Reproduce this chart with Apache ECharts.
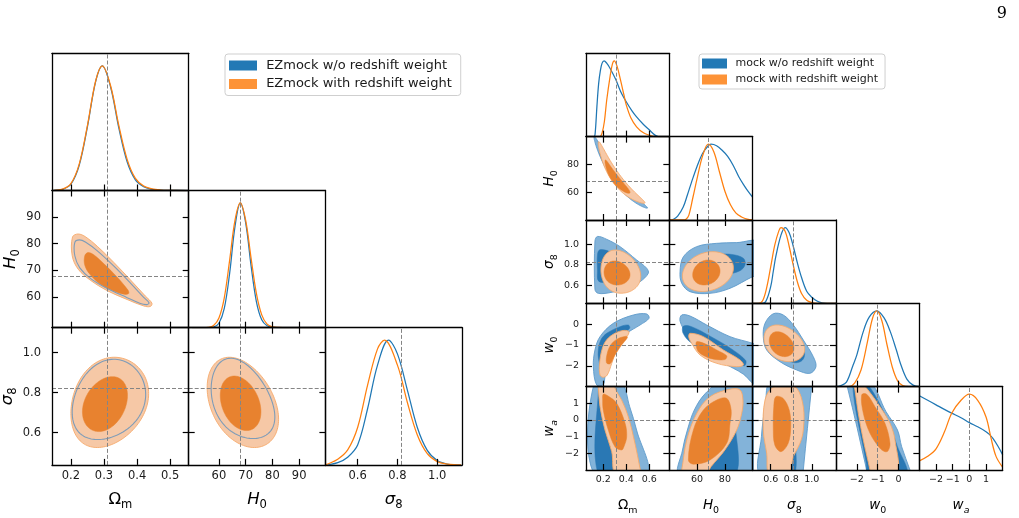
<!DOCTYPE html>
<html><head><meta charset="utf-8">
<script src="https://cdn.jsdelivr.net/npm/echarts@6/dist/echarts.min.js"></script>
<style>html,body{margin:0;padding:0;background:#fff}#c{width:1019px;height:518px}</style>
</head><body><div id="c"></div>
<script>
// ================= DATA =================
const LEFT_PARAMS = ['om', 'h0', 's8'];
const RIGHT_PARAMS = ['om', 'h0', 's8', 'w0', 'wa'];
const LEFT_RANGES = { om: [0.143, 0.556], h0: [48.7, 99.8], s8: [0.438, 1.125] };
const RIGHT_RANGES = { om: [0.05, 0.775], h0: [40, 100], s8: [0.425, 1.235], w0: [-3, 1], wa: [-3, 2] };
const LEFT_TICKS = { om: [0.2, 0.3, 0.4, 0.5], h0: [60, 70, 80, 90], s8: [0.6, 0.8, 1.0] };
const LEFT_TICK_LABELS = { om: ['0.2', '0.3', '0.4', '0.5'], h0: ['60', '70', '80', '90'], s8: ['0.6', '0.8', '1.0'] };
const RIGHT_TICKS = { om: [0.2, 0.4, 0.6], h0: [60, 80], s8: [0.6, 0.8, 1.0], w0: [-2, -1, 0], wa: [-2, -1, 0, 1] };
const RIGHT_TICK_LABELS = { om: ['0.2', '0.4', '0.6'], h0: ['60', '80'], s8: ['0.6', '0.8', '1.0'], w0: ['\u22122', '\u22121', '0'], wa: ['\u22122', '\u22121', '0', '1'] };
const FIDUCIAL = { om: 0.31, h0: 67.8, s8: 0.82, w0: -1, wa: 0 };
const AXIS_NAMES = { om: '{g|\u03A9}{s|m}', h0: '{i|H}{s|0}', s8: '{i|\u03C3}{s|8}', w0: '{i|w}{s|0}', wa: '{i|w}{si|a}' };
const LEFT_SERIES_NAMES = ['EZmock w/o redshift weight', 'EZmock with redshift weight'];
const RIGHT_SERIES_NAMES = ['mock w/o redshift weight', 'mock with redshift weight'];
const PAGE_NUMBER = '9';

// 1D marginals: [value, relative density]
const L_OM_BLUE = [[0.15,0.001],[0.175,0.009],[0.2,0.05],[0.225,0.2],[0.25,0.51],[0.275,0.875],[0.295,1.0],[0.32,0.83],[0.345,0.5],[0.37,0.23],[0.395,0.085],[0.42,0.03],[0.445,0.01],[0.47,0.003],[0.5,0.0008],[0.55,0]];
const L_OM_ORANGE = [[0.15,0.002],[0.175,0.011],[0.2,0.055],[0.225,0.21],[0.25,0.52],[0.275,0.88],[0.295,1.0],[0.32,0.84],[0.345,0.52],[0.37,0.25],[0.395,0.097],[0.42,0.036],[0.445,0.013],[0.47,0.004],[0.5,0.001],[0.55,0]];
const L_H0_BLUE = [[50,0],[54,0.0001],[56,0.0006],[58,0.0055],[60,0.036],[62,0.154],[64,0.435],[66,0.81],[68,1.0],[70,0.84],[72,0.5],[74,0.21],[76,0.063],[78,0.015],[80,0.004],[82,0.001],[86,0],[99,0]];
const L_H0_ORANGE = [[50,0],[54,0.0004],[56,0.003],[58,0.018],[60,0.078],[62,0.24],[64,0.54],[66,0.86],[68,1.0],[70,0.86],[72,0.56],[74,0.276],[76,0.103],[78,0.029],[80,0.007],[82,0.002],[84,0.0005],[88,0],[99,0]];
const L_S8_BLUE = [[0.44,0],[0.45,0.001],[0.5,0.018],[0.55,0.062],[0.6,0.16],[0.65,0.45],[0.7,0.8],[0.755,1.0],[0.8,0.89],[0.85,0.6],[0.9,0.3],[0.95,0.116],[1.0,0.035],[1.05,0.007],[1.1,0.001],[1.12,0]];
const L_S8_ORANGE = [[0.44,0.002],[0.45,0.007],[0.5,0.045],[0.55,0.12],[0.6,0.3],[0.65,0.64],[0.7,0.93],[0.735,1.0],[0.8,0.8],[0.85,0.5],[0.9,0.24],[0.95,0.09],[1.0,0.026],[1.05,0.006],[1.1,0.001],[1.12,0]];

const R_OM_BLUE = [[0.05,0],[0.12,0],[0.13,0.05],[0.145,0.4],[0.16,0.7],[0.175,0.87],[0.19,0.97],[0.207,1.0],[0.23,0.97],[0.26,0.9],[0.31,0.75],[0.35,0.6],[0.40,0.46],[0.45,0.34],[0.49,0.26],[0.55,0.16],[0.6,0.09],[0.65,0.02],[0.68,0],[0.775,0]];
const R_OM_ORANGE = [[0.05,0],[0.17,0],[0.19,0.05],[0.21,0.2],[0.23,0.48],[0.26,0.8],[0.28,0.96],[0.296,1.0],[0.32,0.93],[0.35,0.75],[0.38,0.55],[0.40,0.42],[0.44,0.25],[0.49,0.13],[0.55,0.05],[0.6,0.02],[0.65,0],[0.775,0]];
const R_H0_BLUE = [[40,0],[43,0.01],[46,0.05],[50,0.17],[53,0.33],[56,0.5],[60,0.71],[64,0.88],[68,0.98],[70,1.0],[74,0.98],[78,0.92],[82,0.84],[86,0.72],[90,0.57],[94,0.45],[97,0.37],[100,0.30]];
const R_H0_ORANGE = [[40,0],[50,0],[52,0.01],[54,0.06],[57,0.3],[60,0.55],[64,0.85],[68,1.0],[72,0.9],[76,0.64],[80,0.38],[84,0.2],[88,0.09],[92,0.04],[96,0.01],[100,0]];
const R_S8_BLUE = [[0.425,0],[0.5,0],[0.55,0.02],[0.6,0.22],[0.625,0.42],[0.65,0.62],[0.7,0.9],[0.74,1.0],[0.78,0.93],[0.82,0.75],[0.86,0.53],[0.9,0.34],[0.95,0.16],[1.0,0.08],[1.05,0.03],[1.1,0.005],[1.15,0],[1.235,0]];
const R_S8_ORANGE = [[0.425,0],[0.48,0],[0.52,0.03],[0.56,0.2],[0.6,0.48],[0.64,0.77],[0.68,0.96],[0.70,1.0],[0.74,0.95],[0.78,0.75],[0.82,0.5],[0.86,0.28],[0.9,0.13],[0.95,0.04],[1.0,0.01],[1.05,0],[1.235,0]];
const R_W0_BLUE = [[-3,0],[-2.8,0.01],[-2.5,0.06],[-2.2,0.27],[-2.0,0.42],[-1.7,0.72],[-1.4,0.92],[-1.04,1.0],[-0.7,0.91],[-0.4,0.73],[-0.1,0.48],[0.1,0.3],[0.4,0.1],[0.7,0.02],[1.0,0]];
const R_W0_ORANGE = [[-3,0],[-2.4,0],[-2.1,0.05],[-1.8,0.22],[-1.5,0.58],[-1.25,0.9],[-1.04,1.0],[-0.8,0.87],[-0.55,0.55],[-0.3,0.26],[-0.05,0.08],[0.2,0.015],[0.5,0],[1.0,0]];
const R_WA_BLUE = [[-3,0.98],[-2.5,0.92],[-2,0.86],[-1.5,0.8],[-1.06,0.75],[-0.5,0.69],[0,0.625],[0.5,0.57],[1,0.506],[1.2,0.47],[1.4,0.42],[1.7,0.32],[2,0.2]];
const R_WA_ORANGE = [[-3,0.12],[-2.5,0.18],[-2,0.28],[-1.5,0.5],[-1.06,0.75],[-0.5,0.92],[0,1.0],[0.5,0.92],[1.0,0.7],[1.3,0.42],[1.6,0.18],[2,0.035]];

// 2D credible regions [outer(95%), inner(68%)].
// ellipse-like: [centre x, centre y, extent left, extent right, extent down, extent up, correlation]
// polygon: list of [x, y] vertices
const L_OM_H0_ORANGE_OUT = [[0.205,82.5],[0.222,83.6],[0.245,82.5],[0.28,79],[0.33,73],[0.38,66.5],[0.425,60.5],[0.445,57.8],[0.44,56.6],[0.42,56.8],[0.37,59.2],[0.31,62.5],[0.26,66.3],[0.222,70.5],[0.204,75.5]];
const L_OM_H0_BLUE_OUT = [[0.212,80.5],[0.226,81.4],[0.245,80.5],[0.28,77.3],[0.33,71.6],[0.38,65.3],[0.42,60],[0.436,58],[0.43,57.3],[0.41,57.7],[0.37,59.9],[0.31,63.3],[0.26,67],[0.227,71],[0.212,75.5]];
const L_OM_H0_INNER = [[0.242,75.5],[0.252,76.7],[0.27,75.8],[0.30,72.5],[0.34,67.5],[0.372,62.8],[0.375,61.5],[0.365,61.1],[0.33,62.3],[0.29,64.8],[0.258,68.5],[0.242,72]];
const L_OM_H0_BLUE = [L_OM_H0_BLUE_OUT, L_OM_H0_INNER];
const L_OM_H0_ORANGE = [L_OM_H0_ORANGE_OUT, L_OM_H0_INNER];
const L_OM_S8_BLUE = [[0.305,0.745,0.101,0.121,0.18,0.222,0.22],[0.305,0.745,0.068,0.064,0.13,0.135,0.3]];
const L_OM_S8_ORANGE = [[0.305,0.745,0.105,0.13,0.22,0.232,0.22],[0.305,0.745,0.07,0.066,0.14,0.135,0.3]];
const L_H0_S8_BLUE = [[68.5,0.745,11.4,12.4,0.175,0.227,-0.35],[68,0.745,7.3,7.5,0.13,0.135,-0.3]];
const L_H0_S8_ORANGE = [[68.5,0.745,12.9,13.8,0.22,0.232,-0.35],[68,0.745,7.5,7.7,0.135,0.138,-0.3]];

const R_OM_H0_BLUE = [[0.33,68,0.21,0.255,19.5,32,-0.985],[0.31,70,0.14,0.17,14,18,-0.99]];
const R_OM_H0_ORANGE = [[0.32,69,0.163,0.243,17,27.4,-0.965],[0.30,70,0.085,0.133,10.8,13.2,-0.93]];
const R_OM_S8_BLUE = [[[0.128,1.03],[0.15,1.075],[0.23,1.047],[0.346,0.976],[0.491,0.846],[0.578,0.766],[0.592,0.717],[0.52,0.635],[0.404,0.571],[0.259,0.529],[0.157,0.522],[0.128,0.56]],
  [[0.15,0.9],[0.17,0.945],[0.25,0.93],[0.38,0.84],[0.42,0.75],[0.36,0.66],[0.25,0.63],[0.16,0.64],[0.15,0.75]]];
const R_OM_S8_ORANGE = [[0.33,0.72,0.15,0.196,0.197,0.223,-0.15],[0.31,0.715,0.103,0.123,0.112,0.122,-0.1]];
const R_H0_S8_BLUE = [[[47.7,0.733],[50.1,0.878],[59.7,0.976],[74.1,1.008],[88.5,1.015],[105,1.02],[105,0.70],[100,0.684],[83.7,0.571],[69.3,0.522],[54.9,0.538],[48.9,0.62]],
  [[55,0.8],[62,0.87],[75,0.9],[85,0.9],[93.3,0.863],[94.5,0.8],[90.9,0.742],[80,0.7],[65,0.66],[56,0.68]]];
const R_H0_S8_ORANGE = [[67.5,0.73,18.1,18.6,0.19,0.197,0.2],[66.5,0.72,9.7,10,0.117,0.126,0.15]];
const R_OM_W0_BLUE = [[[0.143,-2.92],[0.114,-2.04],[0.128,-1.24],[0.172,-0.6],[0.288,0.04],[0.462,0.44],[0.578,0.49],[0.598,0.28],[0.52,-0.04],[0.404,-0.44],[0.317,-0.92],[0.244,-1.72],[0.215,-2.52],[0.2,-2.9]],
  [[0.187,-2.12],[0.16,-1.7],[0.157,-1.24],[0.18,-0.75],[0.23,-0.44],[0.346,-0.12],[0.418,-0.04],[0.43,-0.2],[0.36,-0.5],[0.3,-0.9],[0.26,-1.5],[0.225,-2.1]]];
const R_OM_W0_ORANGE = [[[0.172,-2.44],[0.168,-1.9],[0.19,-1.2],[0.23,-0.75],[0.302,-0.44],[0.38,-0.3],[0.425,-0.38],[0.375,-0.84],[0.317,-1.24],[0.274,-1.88],[0.235,-2.44],[0.2,-2.55]],
  [[0.228,-1.85],[0.235,-1.4],[0.265,-1.0],[0.32,-0.72],[0.4,-0.58],[0.41,-0.65],[0.36,-1.0],[0.3,-1.5],[0.26,-1.9]]];
const R_H0_W0_BLUE = [[[48.9,0.44],[54.9,0.39],[66.9,-0.04],[83.7,-0.6],[100,-0.92],[106,-1.1],[106,-3.1],[100,-2.84],[93.3,-2.4],[78.9,-1.85],[64.5,-1.16],[52.5,-0.44],[47.7,0.15]],
  [[50,-0.1],[56,-0.12],[70,-0.6],[85,-1.2],[95,-1.75],[94,-2.0],[85,-1.7],[70,-1.2],[56,-0.9],[50,-0.45]]];
const R_H0_W0_ORANGE = [[[54.9,-0.44],[64.5,-0.6],[78.9,-1.24],[90.9,-1.72],[93.3,-1.96],[88.5,-2.04],[74.1,-1.88],[62.1,-1.48],[56.1,-0.92],[54,-0.62]],
  [[59.7,-0.84],[66,-0.95],[74.1,-1.24],[81.3,-1.52],[80,-1.7],[72,-1.68],[66,-1.55],[60.9,-1.32],[59.3,-1.04]]];
const R_S8_W0_BLUE = [[[0.625,0.5],[0.722,0.44],[0.82,-0.04],[0.917,-0.76],[1.014,-1.56],[1.04,-2.04],[0.982,-2.36],[0.853,-2.2],[0.69,-1.8],[0.561,-1.24],[0.528,-0.6],[0.545,0.04]],
  [0.76,-1.0,0.16,0.17,0.85,0.8,-0.5]];
const R_S8_W0_ORANGE = [[0.72,-0.95,0.185,0.21,0.85,0.91,-0.3],[0.70,-0.97,0.114,0.126,0.59,0.61,-0.3]];
const R_OM_WA_BLUE = [[[0.125,2.3],[0.35,2.3],[0.43,0.8],[0.49,-0.6],[0.58,-3.3],[0.125,-3.3]],[[0.158,1.7],[0.2,1.9],[0.27,1.0],[0.34,-1],[0.40,-3.3],[0.158,-3.3]]];
const R_OM_WA_ORANGE = [[[0.15,2.3],[0.157,1.9],[0.172,0.8],[0.215,-0.6],[0.274,-1.9],[0.311,-3.3],[0.53,-3.3],[0.52,-2.9],[0.476,-1.4],[0.418,0.2],[0.36,1.2],[0.302,1.9],[0.295,2.3]],
  [[0.2,1.55],[0.24,1.45],[0.317,1.0],[0.39,-0.2],[0.404,-1.0],[0.38,-1.6],[0.36,-1.8],[0.302,-1.6],[0.244,-0.6],[0.2,0.6],[0.195,1.2]]];
const R_H0_WA_BLUE = [[[47.5,-3.3],[49.5,-1.8],[53,-0.6],[58,0.6],[66,1.6],[78,2.3],[105,2.3],[105,-3.3]],[[64,-3.3],[75,-1.5],[86,-0.2],[87.5,-0.3],[87.5,-3.3]]];
const R_H0_WA_ORANGE = [[[47.8,-3.3],[48.9,-3],[52.5,-1.2],[59.7,0.4],[69.3,1.4],[83.7,1.85],[90.9,1.8],[93,1.2],[92.1,0.4],[88.5,-0.6],[80,-1.8],[70,-2.8],[66,-3.3]],
  [[53.7,-2.4],[57.3,-0.6],[64.5,0.6],[74.1,1.2],[81.3,1.3],[84.5,0.6],[83.7,-0.2],[81.3,-1.4],[69.3,-2.4],[57.3,-2.65]]];
const R_S8_WA_BLUE = [[[0.5,-3.3],[0.51,-1.0],[0.55,1.0],[0.6,2.3],[1.005,2.3],[0.998,2.0],[0.917,-3.0],[0.913,-3.3]],[[0.72,-3.3],[0.74,-1.5],[0.8,-0.5],[0.84,-1.5],[0.83,-3.3]]];
const R_S8_WA_ORANGE = [[[0.62,1.95],[0.75,2.0],[0.853,1.9],[0.917,0.8],[0.917,-0.6],[0.885,-1.4],[0.82,-2.2],[0.771,-3.3],[0.59,-3.3],[0.561,-2.0],[0.528,-0.6],[0.545,1.2]],
  [[0.65,1.4],[0.72,1.3],[0.78,0.6],[0.795,-0.4],[0.77,-1.4],[0.7,-1.9],[0.64,-1.5],[0.625,-0.4],[0.63,0.8]]];
const R_W0_WA_BLUE = [[[-2.6,2.3],[-1.4,2.3],[-0.6,0.5],[-0.05,-0.6],[0.15,-1.6],[0.55,-3.0],[0.62,-3.3],[-1.5,-3.3],[-1.53,-3.0],[-2.46,2.0]],
  [[-2.2,2.3],[-1.6,2.3],[-0.6,0.2],[-0.05,-1.6],[0.38,-3.3],[-1.45,-3.3],[-1.55,-2.6]]];
const R_W0_WA_ORANGE = [[[-2.15,2.1],[-1.8,2.2],[-1.53,1.9],[-0.89,0.8],[-0.41,-0.2],[-0.17,-1.2],[-0.09,-3.3],[-1.35,-3.3],[-1.37,-3],[-1.69,-1.2],[-1.93,0.4],[-2.09,1.8]],
  [[-1.77,1.5],[-1.53,1.55],[-1.13,0.8],[-0.65,-0.2],[-0.41,-1.4],[-0.5,-1.85],[-0.65,-1.9],[-0.89,-1.7],[-1.37,-0.8],[-1.69,0.4]]];

// ================= STYLE / LAYOUT =================
const FONT = 'DejaVu Sans';
const LINE_COLORS = ['#1f77b4', '#ff7f0e'];
const LEGEND_COLORS = ['#2279b5', '#fd9337'];
const FILL = {
  blue: { outer: '#83b3d9', inner: '#2a78b4', edge: '#5f9bcb' },
  orange: { outer: '#f6c8a6', inner: '#e8822f', edge: '#f6aa6c' }
};
const BLUE_LINE_ON_TOP = '#7e9cb8';

const LEFT_PLOT = {
  params: LEFT_PARAMS, ranges: LEFT_RANGES, ticks: LEFT_TICKS, tickLabels: LEFT_TICK_LABELS,
  names: LEFT_SERIES_NAMES, blueLineOnTop: true,
  x0: 52, y0: 53.3, w: 136.7, h: 137.2,
  tickFont: 11.5, titleFont: 16.5, tickLen: 6, labelMarginX: 5, labelMarginY: 11, nameGapX: 26, nameGapY: 25.5,
  marginals: [[L_OM_BLUE, L_OM_ORANGE], [L_H0_BLUE, L_H0_ORANGE], [L_S8_BLUE, L_S8_ORANGE]],
  panels: [
    { row: 1, col: 0, c: [L_OM_H0_BLUE, L_OM_H0_ORANGE] },
    { row: 2, col: 0, c: [L_OM_S8_BLUE, L_OM_S8_ORANGE] },
    { row: 2, col: 1, c: [L_H0_S8_BLUE, L_H0_S8_ORANGE] }
  ]
};
const RIGHT_PLOT = {
  params: RIGHT_PARAMS, ranges: RIGHT_RANGES, ticks: RIGHT_TICKS, tickLabels: RIGHT_TICK_LABELS,
  names: RIGHT_SERIES_NAMES, blueLineOnTop: false,
  x0: 586, y0: 53.3, w: 83.34, h: 83.34,
  tickFont: 9.5, titleFont: 13.5, tickLen: 6, labelMarginX: 5, labelMarginY: 7, nameGapX: 28, nameGapY: 27,
  marginals: [[R_OM_BLUE, R_OM_ORANGE], [R_H0_BLUE, R_H0_ORANGE], [R_S8_BLUE, R_S8_ORANGE], [R_W0_BLUE, R_W0_ORANGE], [R_WA_BLUE, R_WA_ORANGE]],
  panels: [
    { row: 1, col: 0, c: [R_OM_H0_BLUE, R_OM_H0_ORANGE] },
    { row: 2, col: 0, c: [R_OM_S8_BLUE, R_OM_S8_ORANGE] },
    { row: 2, col: 1, c: [R_H0_S8_BLUE, R_H0_S8_ORANGE] },
    { row: 3, col: 0, c: [R_OM_W0_BLUE, R_OM_W0_ORANGE] },
    { row: 3, col: 1, c: [R_H0_W0_BLUE, R_H0_W0_ORANGE] },
    { row: 3, col: 2, c: [R_S8_W0_BLUE, R_S8_W0_ORANGE] },
    { row: 4, col: 0, c: [R_OM_WA_BLUE, R_OM_WA_ORANGE] },
    { row: 4, col: 1, c: [R_H0_WA_BLUE, R_H0_WA_ORANGE] },
    { row: 4, col: 2, c: [R_S8_WA_BLUE, R_S8_WA_ORANGE] },
    { row: 4, col: 3, c: [R_W0_WA_BLUE, R_W0_WA_ORANGE] }
  ]
};
const MARGINAL_TOP = 1.1;

// ================= BUILD =================
function contourPoints(c) {
  if (Array.isArray(c[0])) return { pts: c, poly: true };
  const [cx, cy, sxL, sxR, syD, syU, rho] = c;
  const a = (sxL + sxR) / 2, b = (sxR - sxL) / 2, p = (syD + syU) / 2, q = (syU - syD) / 2;
  const s = Math.sqrt(1 - rho * rho);
  const pts = [];
  const N = 120;
  for (let k = 0; k < N; k++) {
    const t = 2 * Math.PI * k / N;
    const u = Math.cos(t), v = rho * u + s * Math.sin(t);
    pts.push([cx + a * u + b * u * u, cy + p * v + q * v * v]);
  }
  return { pts, poly: false };
}
function centreOf(c) {
  if (Array.isArray(c[0])) {
    let sx = 0, sy = 0; c.forEach(p => { sx += p[0]; sy += p[1]; });
    return [sx / c.length, sy / c.length];
  }
  return [c[0], c[1]];
}

const option = {
  animation: false, backgroundColor: '#fff',
  textStyle: { fontFamily: FONT },
  title: { text: PAGE_NUMBER, right: 7, top: 1, textStyle: { fontFamily: 'DejaVu Serif', fontSize: 16, fontWeight: 'normal', color: '#000' } },
  grid: [], xAxis: [], yAxis: [], series: [], legend: []
};

function richFor(fs) {
  return {
    g: { fontSize: fs, fontFamily: FONT, color: '#000', verticalAlign: 'bottom', padding: [0, 0, 3, 0] },
    i: { fontSize: fs, fontFamily: FONT, fontStyle: 'italic', color: '#000', verticalAlign: 'bottom', padding: [0, 0, 3, 0] },
    s: { fontSize: fs * 0.7, fontFamily: FONT, color: '#000', verticalAlign: 'bottom' },
    si: { fontSize: fs * 0.7, fontFamily: FONT, fontStyle: 'italic', color: '#000', verticalAlign: 'bottom' }
  };
}

function valueAxis(P, g, pos, param, showTicks, showLabels, showName) {
  const vertical = pos === 'left' || pos === 'right';
  const ticks = P.ticks[param], labels = P.tickLabels[param];
  return {
    type: 'value', gridIndex: g, position: pos, min: P.ranges[param][0], max: P.ranges[param][1], z: 10,
    axisLine: { show: true, onZero: false, lineStyle: { color: '#000', width: 1.3 } },
    axisTick: { show: showTicks, inside: true, length: P.tickLen, customValues: ticks, lineStyle: { color: '#000', width: 1.2 } },
    axisLabel: {
      show: showLabels, customValues: ticks, fontSize: P.tickFont, color: '#1a1a1a', fontFamily: FONT,
      margin: vertical ? P.labelMarginY : P.labelMarginX,
      formatter: v => { const k = ticks.findIndex(t => Math.abs(t - v) < 1e-9); return k >= 0 ? labels[k] : ''; }
    },
    splitLine: { show: false },
    name: showName ? AXIS_NAMES[param] : '', nameLocation: 'middle',
    nameGap: vertical ? P.nameGapY : P.nameGapX, nameRotate: vertical ? 90 : 0,
    nameTextStyle: { rich: richFor(P.titleFont) }
  };
}
function frameAxis(g, pos) {
  return {
    type: 'value', gridIndex: g, position: pos, min: 0, max: MARGINAL_TOP, z: 10,
    axisLine: { show: true, onZero: false, lineStyle: { color: '#000', width: 1.3 } },
    axisTick: { show: false }, axisLabel: { show: false }, splitLine: { show: false }
  };
}
function fiducialSeries(xi, yi, marks) {
  return {
    type: 'line', xAxisIndex: xi, yAxisIndex: yi, data: [], silent: true, z: 6,
    markLine: { silent: true, symbol: 'none', animation: false, label: { show: false },
      lineStyle: { color: '#858585', type: [4, 2], width: 1 }, data: marks }
  };
}
function contourSeries(name, xi, yi, list, colour) {
  const st = FILL[colour];
  return {
    type: 'custom', name, xAxisIndex: xi, yAxisIndex: yi, clip: true, silent: true, z: 2,
    data: list.map(centreOf),
    renderItem: (params, api) => {
      const c = list[params.dataIndex];
      const r = contourPoints(c);
      const pts = r.pts.map(p => api.coord(p));
      const outer = params.dataIndex === 0;
      return {
        type: 'polygon', shape: { points: pts, smooth: r.poly ? 0.35 : 0 },
        style: { fill: outer ? st.outer : st.inner, stroke: outer ? st.edge : st.inner, lineWidth: outer ? 0.9 : 0.5 }
      };
    }
  };
}
function blueOutlineSeries(xi, yi, c) {
  return {
    type: 'custom', xAxisIndex: xi, yAxisIndex: yi, clip: true, silent: true, z: 3,
    data: [centreOf(c)],
    renderItem: (params, api) => {
      const r = contourPoints(c);
      return { type: 'polygon', shape: { points: r.pts.map(p => api.coord(p)), smooth: r.poly ? 0.35 : 0 }, style: { fill: 'none', stroke: BLUE_LINE_ON_TOP, lineWidth: 1.1 } };
    }
  };
}

function addPlot(P) {
  const n = P.params.length;
  const cell = {};
  for (let i = 0; i < n; i++) {
    for (let j = 0; j <= i; j++) {
      const g = option.grid.length;
      option.grid.push({ left: P.x0 + j * P.w, top: P.y0 + i * P.h, width: P.w, height: P.h, show: false, outerBoundsMode: 'none' });
      const px = P.params[j], py = P.params[i];
      const diag = i === j, bottomRow = i === n - 1, leftCol = j === 0;
      const xi = option.xAxis.length;
      option.xAxis.push(valueAxis(P, g, 'bottom', px, true, bottomRow, bottomRow));
      option.xAxis.push(valueAxis(P, g, 'top', px, !diag, false, false));
      const yi = option.yAxis.length;
      if (diag) {
        option.yAxis.push(frameAxis(g, 'left'));
        option.yAxis.push(frameAxis(g, 'right'));
        const pair = P.marginals[i];
        pair.forEach((arr, k) => option.series.push({
          type: 'line', name: P.names[k], xAxisIndex: xi, yAxisIndex: yi, data: arr, symbol: 'none', showSymbol: false,
          smooth: 0.35, clip: true, silent: true, z: 4,
          lineStyle: { color: LINE_COLORS[k], width: 1.25 }, itemStyle: { color: LINE_COLORS[k] }
        }));
        option.series.push(fiducialSeries(xi, yi, [{ xAxis: FIDUCIAL[px] }]));
      } else {
        option.yAxis.push(valueAxis(P, g, 'left', py, true, leftCol, leftCol));
        option.yAxis.push(valueAxis(P, g, 'right', py, true, false, false));
        cell[i + ',' + j] = { xi, yi };
      }
    }
  }
  P.panels.forEach(pn => {
    const { xi, yi } = cell[pn.row + ',' + pn.col];
    option.series.push(contourSeries(P.names[0], xi, yi, pn.c[0], 'blue'));
    option.series.push(contourSeries(P.names[1], xi, yi, pn.c[1], 'orange'));
    if (P.blueLineOnTop) option.series.push(blueOutlineSeries(xi, yi, pn.c[0][0]));
    option.series.push(fiducialSeries(xi, yi, [{ xAxis: FIDUCIAL[P.params[pn.col]] }, { yAxis: FIDUCIAL[P.params[pn.row]] }]));
  });
}
addPlot(LEFT_PLOT);
addPlot(RIGHT_PLOT);

function legendFor(names, left, top, fs, iw, ih, gap, pad) {
  return {
    data: names.map((nm, k) => ({ name: nm, itemStyle: { color: LEGEND_COLORS[k], borderWidth: 0 } })),
    left, top, orient: 'vertical', icon: 'rect', itemWidth: iw, itemHeight: ih, itemGap: gap, padding: pad,
    borderColor: '#cfcfcf', borderWidth: 1, borderRadius: 3, backgroundColor: '#fff', selectedMode: false,
    lineStyle: { width: 0 }, z: 20,
    textStyle: { fontSize: fs, color: '#1a1a1a', fontFamily: FONT },
    formatter: nm => ' ' + nm
  };
}
option.legend.push(legendFor(LEFT_SERIES_NAMES, 225, 54, 13, 28, 10, 5.5, [5, 9, 5, 4]));
option.legend.push(legendFor(RIGHT_SERIES_NAMES, 699, 54, 11, 25, 10, 5, [4, 7, 4, 3]));

const chart = echarts.init(document.getElementById('c'), null, { renderer: 'canvas', width: 1019, height: 518 });
chart.setOption(option);
</script>
</body></html>
